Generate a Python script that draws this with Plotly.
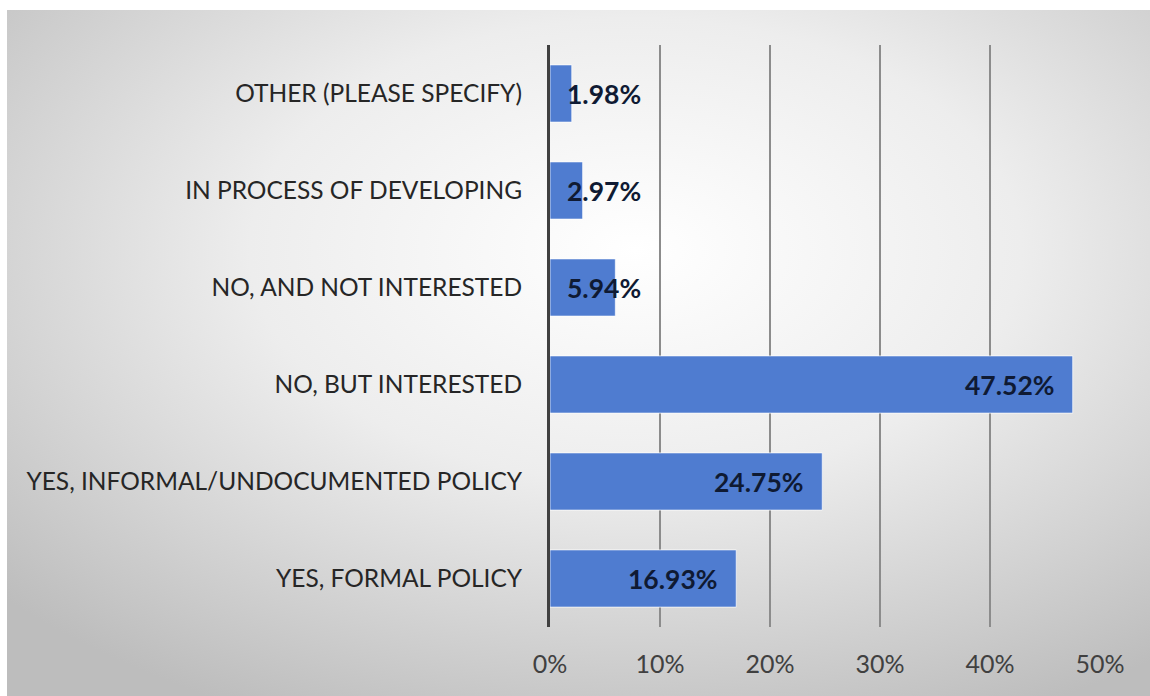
import base64
import plotly.graph_objects as go

categories = [
    "YES, FORMAL POLICY",
    "YES, INFORMAL/UNDOCUMENTED POLICY",
    "NO, BUT INTERESTED",
    "NO, AND NOT INTERESTED",
    "IN PROCESS OF DEVELOPING",
    "OTHER (PLEASE SPECIFY)",
]
values = [16.93, 24.75, 47.52, 5.94, 2.97, 1.98]
tick_vals = [0, 10, 20, 30, 40, 50]
tick_text = ["0%", "10%", "20%", "30%", "40%", "50%"]

W, H = 1150, 696
L, R, T, B = 550, 50, 45, 69
pw, ph = W - L - R, H - T - B

svg = f'''<svg xmlns="http://www.w3.org/2000/svg" width="1143" height="686" viewBox="0 0 1143 686" preserveAspectRatio="none">
<defs><radialGradient id="g" cx="0.55" cy="0.35" r="0.75" fx="0.55" fy="0.35">
<stop offset="0" stop-color="#ffffff"/>
<stop offset="0.45" stop-color="#ededed"/>
<stop offset="1" stop-color="#bdbdbd"/>
</radialGradient></defs>
<rect x="0" y="0" width="1143" height="686" fill="url(#g)"/>
</svg>'''
src = "data:image/svg+xml;base64," + base64.b64encode(svg.encode()).decode()

fig = go.Figure()
fig.add_trace(go.Bar(
    y=categories, x=values, orientation="h",
    marker=dict(color="#4f7cd0", line=dict(color="rgba(255,255,255,0.7)", width=1)),
    hoverinfo="skip",
))

label_font = dict(family="Lato", size=26.5, color="#0f1a33")
for c, v in zip(categories, values):
    text = f"<b>{v:.2f}%</b>"
    bar_px = v * pw / 50
    if bar_px - 17 < 17 + 74:
        fig.add_annotation(x=0, y=c, text=text, showarrow=False, xanchor="left",
                           xshift=15, font=label_font)
    else:
        fig.add_annotation(x=v, y=c, text=text, showarrow=False, xanchor="right",
                           xshift=-16, font=label_font)

fig.add_layout_image(dict(
    source=src, xref="paper", yref="paper",
    x=(7 - L) / pw, y=(T + ph - 10) / ph, sizex=(W - 7) / pw, sizey=(H - 10) / ph,
    xanchor="left", yanchor="top", sizing="stretch", layer="below",
))

fig.update_layout(
    width=W, height=H,
    margin=dict(l=L, r=R, t=T, b=B, autoexpand=False),
    paper_bgcolor="white", plot_bgcolor="rgba(0,0,0,0)",
    bargap=0.41, showlegend=False,
    font=dict(family="Lato", color="#333333"),
)
fig.update_xaxes(
    range=[0, 50], tickvals=tick_vals, ticktext=tick_text,
    showgrid=True, gridcolor="#8c8c8c", gridwidth=2,
    zeroline=False, showline=False, automargin=False,
    tickfont=dict(size=25, color="#404040"), ticklabelstandoff=20,
    fixedrange=True,
)
fig.update_yaxes(
    showgrid=False, showline=True, linecolor="#404040", linewidth=3,
    automargin=False,
    tickfont=dict(size=24.5, color="#262626"), ticklabelstandoff=20,
    fixedrange=True,
)

fig.write_html("out.html")
